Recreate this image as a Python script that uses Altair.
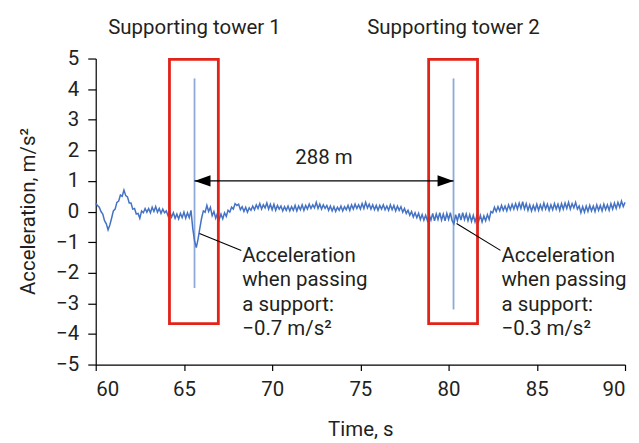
import altair as alt
import pandas as pd

# ---- signal (sampled every 0.1 s from 60 s) ----
t0 = 60.0
dt = 0.1
accel = [
    0.27, 0.20, 0.14, 0.00, -0.08, -0.30, -0.40, -0.60, -0.44, -0.22,
    0.02, 0.08, 0.30, 0.34, 0.54, 0.50, 0.70, 0.52, 0.48, 0.28,
    0.28, 0.08, 0.10, -0.08, -0.06, -0.22, 0.02, -0.04, 0.10, -0.02,
    0.10, -0.04, 0.14, 0.00, 0.16, -0.02, 0.10, -0.06, 0.08, -0.04,
    0.02, -0.14, -0.02, -0.18, -0.04, -0.22, -0.08, -0.24, -0.06, -0.20,
    -0.02, -0.22, -0.04, -0.20, 0.04, -0.55, -0.95, -1.18, -0.90, -0.55,
    -0.22, 0.02, -0.02, 0.20, 0.00, 0.14, -0.14, 0.00, -0.22, -0.06,
    -0.26, -0.08, -0.24, -0.04, -0.16, 0.04, -0.02, 0.14, 0.08, 0.26,
    0.20, 0.24, 0.06, 0.16, 0.00, 0.14, -0.02, 0.12, 0.04, 0.18,
    0.06, 0.22, 0.10, 0.26, 0.08, 0.22, 0.12, 0.28, 0.08, 0.24,
    0.06, 0.24, 0.04, 0.20, 0.08, 0.18, 0.02, 0.16, 0.04, 0.18,
    0.02, 0.16, 0.04, 0.20, 0.02, 0.18, 0.06, 0.22, 0.04, 0.20,
    0.08, 0.24, 0.10, 0.22, 0.12, 0.30, 0.10, 0.24, 0.08, 0.22,
    0.10, 0.20, 0.04, 0.18, 0.02, 0.16, 0.00, 0.14, 0.04, 0.18,
    0.02, 0.16, 0.06, 0.20, 0.04, 0.22, 0.08, 0.24, 0.10, 0.22,
    0.08, 0.26, 0.10, 0.30, 0.12, 0.24, 0.08, 0.22, 0.06, 0.20,
    0.04, 0.20, 0.08, 0.22, 0.06, 0.18, 0.04, 0.22, 0.06, 0.20,
    0.02, 0.18, 0.04, 0.16, -0.02, 0.10, -0.06, 0.04, -0.12, 0.00,
    -0.18, -0.04, -0.20, -0.06, -0.26, -0.10, -0.28, -0.12, -0.30, -0.10,
    -0.28, -0.06, -0.30, -0.08, -0.26, -0.04, -0.28, -0.08, -0.30, -0.06,
    -0.26, -0.04, -0.30, -0.40, -0.10, -0.30, -0.06, -0.28, -0.04, -0.26,
    -0.08, -0.30, -0.10, -0.32, -0.12, -0.34, -0.14, -0.32, -0.12, -0.34,
    -0.14, -0.30, -0.10, -0.26, 0.00, -0.04, 0.14, 0.00, 0.16, 0.02,
    0.20, 0.04, 0.18, 0.02, 0.22, 0.06, 0.24, 0.08, 0.26, 0.08,
    0.28, 0.10, 0.32, 0.08, 0.26, 0.04, 0.22, 0.02, 0.20, 0.04,
    0.24, 0.04, 0.22, 0.06, 0.28, 0.08, 0.24, 0.04, 0.22, 0.06,
    0.26, 0.08, 0.24, 0.04, 0.26, 0.08, 0.28, 0.10, 0.30, 0.08,
    0.26, 0.12, 0.30, 0.08, 0.18, -0.04, 0.16, -0.02, 0.18, 0.00,
    0.20, 0.02, 0.18, 0.00, 0.22, 0.04, 0.20, 0.02, 0.24, 0.06,
    0.22, 0.04, 0.26, 0.08, 0.28, 0.10, 0.30, 0.14, 0.34, 0.16,
    0.30,
]
time = [round(t0 + i * dt, 2) for i in range(len(accel))]

# ---- towers / annotations ----
tower_names = ["Supporting tower 1", "Supporting tower 2"]
box_start = [64.18, 78.87]
box_end = [66.95, 81.64]
box_top = [4.97, 4.97]
box_bottom = [-3.66, -3.66]
spike_time = [65.6, 80.28]
spike_top = [4.35, 4.35]
spike_bottom = [-2.5, -3.2]
title_y = [6.0, 6.0]

distance_label = ["288 m"]
arrow_y = [1.0]

notes = [
    "Acceleration\nwhen passing\na support:\n\u22120.7 m/s\u00b2",
    "Acceleration\nwhen passing\na support:\n\u22120.3 m/s\u00b2",
]
leader_x1 = [65.88, 80.45]
leader_y1 = [-0.72, -0.39]
leader_x2 = [68.25, 82.94]
leader_y2 = [-1.27, -1.27]
note_y = [-1.12, -1.12]

FONT = "Roboto, sans-serif"
FS = 20.5
TXT = "#231f20"

sig = pd.DataFrame({"t": time, "a": accel})
towers = pd.DataFrame({
    "name": tower_names, "x0": box_start, "x1": box_end,
    "ytop": box_top, "ybot": box_bottom,
    "sx": spike_time, "stop": spike_top, "sbot": spike_bottom,
    "ty": title_y,
})
arrow = pd.DataFrame({"xa": [spike_time[0]], "xb": [spike_time[1]], "y": arrow_y,
                      "label": distance_label,
                      "xm": [(spike_time[0] + spike_time[1]) / 2]})
notes_df = pd.DataFrame({"note": notes, "x1": leader_x1, "y1": leader_y1,
                         "x2": leader_x2, "y2": leader_y2, "ny": note_y})

xscale = alt.Scale(domain=[60, 90], nice=False, zero=False)
yscale = alt.Scale(domain=[-5, 5], nice=False, zero=False)

xax = alt.Axis(values=list(range(60, 91, 5)), title="Time, s", titleY=55,
               titleBaseline="top", labelPadding=9, tickSize=6)
yax = alt.Axis(values=list(range(-5, 6)), title="Acceleration, m/s\u00b2",
               titleX=-67, titleY=153, titleBaseline="middle", titleAlign="center",
               labelPadding=9, tickSize=8)

X = lambda f: alt.X(f, type="quantitative", scale=xscale, axis=xax)
Y = lambda f: alt.Y(f, type="quantitative", scale=yscale, axis=yax)

spikes = alt.Chart(towers).mark_rule(color="#8eaadb", strokeWidth=1.8).encode(
    x=X("sx"), y=Y("stop"), y2="sbot")

line = alt.Chart(sig).mark_line(color="#4472c4", strokeWidth=1.5).encode(
    x=X("t"), y=Y("a"))

boxes = alt.Chart(towers).mark_rect(fill=None, filled=False, stroke="#e2231a",
                                     strokeWidth=2.8).encode(
    x=X("x0"), x2="x1", y=Y("ytop"), y2="ybot")

tower_titles = alt.Chart(towers).mark_text(font=FONT, fontSize=FS, color=TXT).encode(
    x=X("sx"), y=Y("ty"), text="name")

arrow_line = alt.Chart(arrow).mark_rule(color="black", strokeWidth=1.3).encode(
    x=X("xa"), x2="xb", y=Y("y"))
head_left = alt.Chart(arrow).mark_point(
    shape="M0,0 L2,-0.7 L2,0.7 Z", filled=True, color="black", opacity=1,
    size=256, strokeWidth=0).encode(x=X("xa"), y=Y("y"))
head_right = alt.Chart(arrow).mark_point(
    shape="M0,0 L-2,-0.7 L-2,0.7 Z", filled=True, color="black", opacity=1,
    size=256, strokeWidth=0).encode(x=X("xb"), y=Y("y"))
dist_text = alt.Chart(arrow).mark_text(font=FONT, fontSize=FS, color=TXT,
                                       dy=-23).encode(
    x=X("xm"), y=Y("y"), text="label")

leaders = alt.Chart(notes_df).mark_rule(color="black", strokeWidth=1.1).encode(
    x=X("x1"), y=Y("y1"), x2="x2", y2="y2")
note_text = alt.Chart(notes_df).mark_text(
    font=FONT, fontSize=FS, color=TXT, align="left", baseline="top",
    lineBreak="\n", lineHeight=24.5, dx=1).encode(
    x=X("x2"), y=Y("ny"), text="note")

chart = alt.layer(
    spikes, line, boxes, tower_titles, arrow_line, head_left, head_right,
    dist_text, leaders, note_text
).properties(
    width=531, height=307, autosize="none",
    padding={"left": 88, "top": 50, "right": 6, "bottom": 76},
).configure_view(stroke=None).configure_axis(
    grid=False, domainColor="black", domainWidth=1.2, tickColor="black",
    tickWidth=1.2, labelFont=FONT, labelFontSize=FS,
    labelColor=TXT, titleFont=FONT, titleFontSize=FS, titleColor=TXT,
    titleFontWeight="normal",
)

chart.save("out.html", embed_options={"renderer": "svg", "actions": False})
